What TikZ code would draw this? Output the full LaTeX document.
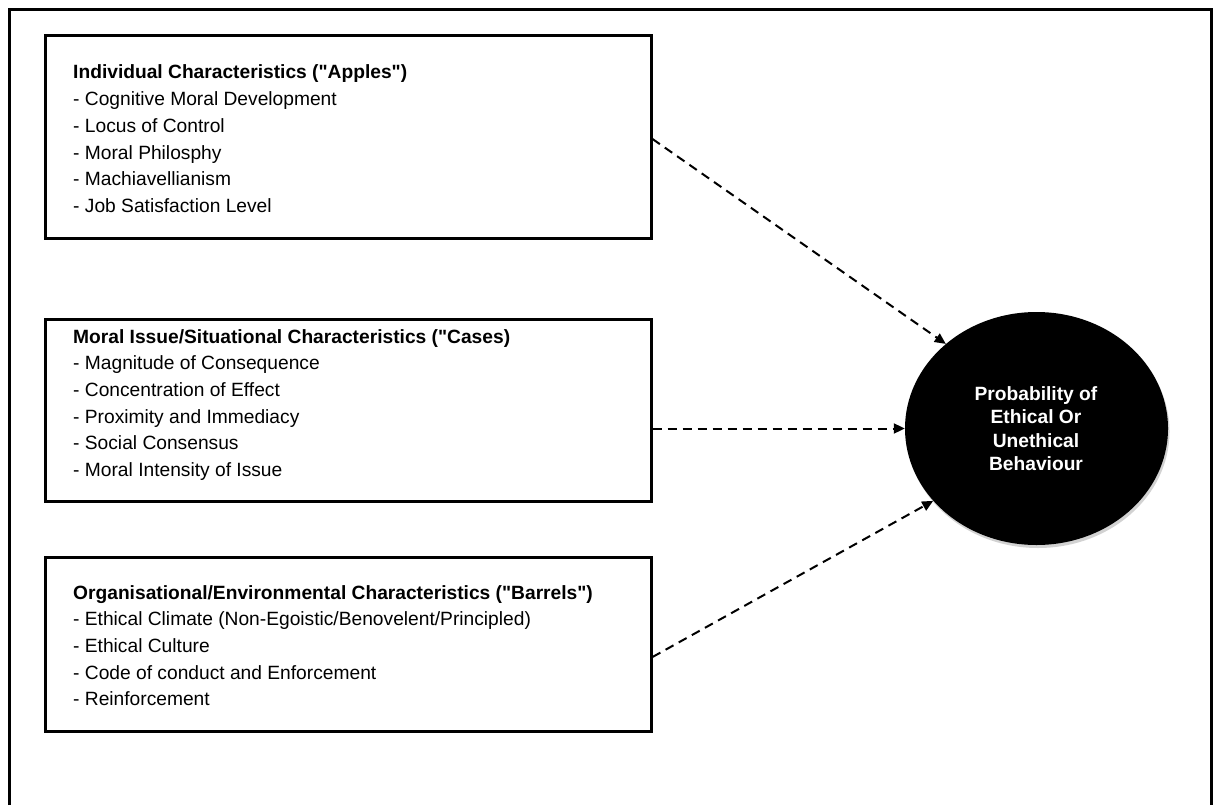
\documentclass[tikz,border=0pt]{standalone}
\usepackage{fontspec}
\setmainfont{Liberation Sans}[Ligatures=TeXOff]
\usetikzlibrary{arrows.meta,shapes.geometric,shadows}
\begin{document}
\begin{tikzpicture}[x=1pt,y=-1pt,
  box/.style={draw=black,line width=3pt,fill=white,inner sep=0pt},
  txt/.style={anchor=base west,inner sep=0pt,font=\fontsize{19.2}{22}\selectfont},
  ttl/.style={txt,font=\fontsize{19.2}{22}\selectfont\bfseries},
  etxt/.style={anchor=base,inner sep=0pt,text=white,font=\fontsize{19.2}{22}\selectfont\bfseries},
  conn/.style={line width=2pt,dash pattern=on 9pt off 6pt,-{Triangle[length=11pt,width=10pt]}}]
\useasboundingbox (0,0) rectangle (1214,805);
\fill[white] (0,0) rectangle (1214,805);
% outer frame
\draw[line width=3pt] (9,805) -- (9,10) -- (1211,10) -- (1211,805);
% boxes
\node[box,minimum width=606pt,minimum height=202pt] (b1) at (348,137) {};
\node[box,minimum width=606pt,minimum height=182pt] (b2) at (348,410) {};
\node[box,minimum width=606pt,minimum height=174pt] (b3) at (348,644) {};
% box 1 text
\node[ttl] (t10) at (73,79) {Individual Characteristics ("Apples")};
\node[txt] (t11) at (73,105.7) {- Cognitive Moral Development};
\node[txt] (t12) at (73,132.4) {- Locus of Control};
\node[txt] (t13) at (73,159.1) {- Moral Philosphy};
\node[txt] (t14) at (73,185.8) {- Machiavellianism};
\node[txt] (t15) at (73,212.5) {- Job Satisfaction Level};
% box 2 text
\node[ttl] (t20) at (73,343) {Moral Issue/Situational Characteristics ("Cases)};
\node[txt] (t21) at (73,369.7) {- Magnitude of Consequence};
\node[txt] (t22) at (73,396.4) {- Concentration of Effect};
\node[txt] (t23) at (73,423.1) {- Proximity and Immediacy};
\node[txt] (t24) at (73,449.8) {- Social Consensus};
\node[txt] (t25) at (73,476.5) {- Moral Intensity of Issue};
% box 3 text
\node[ttl] (t30) at (73,599) {Organisational/Environmental Characteristics ("Barrels")};
\node[txt] (t31) at (73,625.7) {- Ethical Climate (Non-Egoistic/Benovelent/Principled)};
\node[txt] (t32) at (73,652.4) {- Ethical Culture};
\node[txt] (t33) at (73,679.1) {- Code of conduct and Enforcement};
\node[txt] (t34) at (73,705.8) {- Reinforcement};
% ellipse
\node[ellipse,fill=black,inner sep=0pt,minimum width=263pt,minimum height=233pt,
  drop shadow={opacity=0.35,shadow xshift=1.5pt,shadow yshift=-3pt}] (e) at (1036.5,428.5) {};
\node[etxt] (e1) at (1036,400) {Probability of};
\node[etxt] (e2) at (1036,423.5) {Ethical Or};
\node[etxt] (e3) at (1036,447) {Unethical};
\node[etxt] (e4) at (1036,470.5) {Behaviour};
% connectors
\draw[conn] ([yshift=-2pt]b1.east) -- (e.137);
\draw[conn] ([yshift=-18.5pt]b2.east) -- (e.west);
\draw[conn] ([yshift=-13pt]b3.east) -- (e.215);
\end{tikzpicture}
\end{document}
